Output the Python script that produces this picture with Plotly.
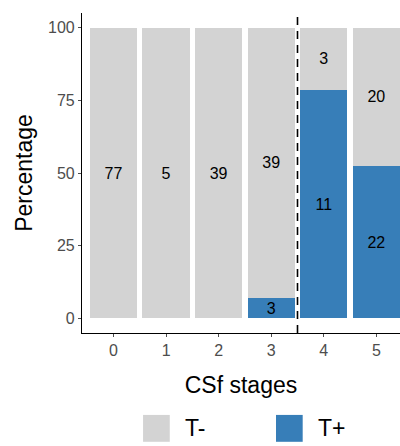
import plotly.graph_objects as go

# counts per CSf stage
stages = [0, 1, 2, 3, 4, 5]
t_neg = [77, 5, 39, 39, 3, 20]
t_pos = [0, 0, 0, 3, 11, 22]

totals = [a + b for a, b in zip(t_neg, t_pos)]
pct_neg = [100 * a / t for a, t in zip(t_neg, totals)]
pct_pos = [100 * b / t for b, t in zip(t_pos, totals)]

grey = "#D3D3D3"
blue = "#377EB8"
font = "Liberation Sans, Arial, sans-serif"

fig = go.Figure()
fig.add_bar(x=stages, y=pct_pos, name="T+", marker_color=blue, marker_line_width=0,
            width=0.9, text=[str(v) if v else "" for v in t_pos])
fig.add_bar(x=stages, y=pct_neg, name="T-", marker_color=grey, marker_line_width=0,
            width=0.9, text=[str(v) if v else "" for v in t_neg])
fig.update_traces(textposition="inside", insidetextanchor="middle", textangle=0,
                  textfont=dict(size=16, color="black", family=font),
                  hoverinfo="skip")

fig.add_shape(type="line", xref="x", yref="paper", x0=3.5, x1=3.5, y0=0, y1=1,
              line=dict(color="black", width=1.6, dash="8px,6px"))

# legend drawn by hand (big ggplot-style keys)
for x0, col, lab in [(0.192, grey, "T-"), (0.61, blue, "T+")]:
    fig.add_shape(type="rect", xref="paper", yref="paper", x0=x0, x1=x0 + 0.084,
                  y0=-0.34, y1=-0.256, fillcolor=col, line_width=0)
    fig.add_annotation(xref="paper", yref="paper", x=x0 + 0.127, y=-0.298,
                       text=lab, showarrow=False, xanchor="left", yanchor="middle",
                       font=dict(size=23, color="black", family=font))

fig.update_layout(
    barmode="stack",
    width=400, height=446,
    margin=dict(l=82, r=0, t=13, b=113),
    plot_bgcolor="white", paper_bgcolor="white",
    showlegend=False,
    uniformtext=dict(minsize=16, mode="show"),
    font=dict(family=font),
    bargap=0.1,
)
fig.update_xaxes(range=[-0.6, 5.45], tickvals=stages, ticktext=[str(s) for s in stages],
                 showline=True, linecolor="black", linewidth=1.2, showgrid=False,
                 zeroline=False, ticks="outside", ticklen=3, tickcolor="#4D4D4D",
                 tickfont=dict(size=16, color="#4D4D4D"),
                 title=dict(text="CSf stages", font=dict(size=23, color="black"), standoff=18))
fig.update_yaxes(range=[-5, 105], tickvals=[0, 25, 50, 75, 100],
                 showline=True, linecolor="black", linewidth=1.2, showgrid=False,
                 zeroline=False, ticks="outside", ticklen=3, tickcolor="#4D4D4D",
                 tickfont=dict(size=16, color="#4D4D4D"),
                 title=dict(text="Percentage", font=dict(size=23, color="black"), standoff=8))

# drop the page's default body margin so the figure fills the window exactly
fig.write_html("out.html", config={"displayModeBar": False},
               post_script="document.body.style.margin='0';"
                           "document.documentElement.style.overflow='hidden';")
